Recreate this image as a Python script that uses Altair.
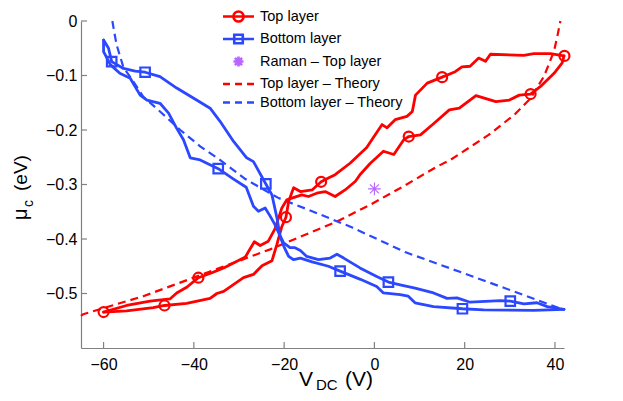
import altair as alt
import pandas as pd

# ---------------- data ----------------
# Top layer (red), branch A: lower-left -> upper-right
TOP_A_V = [-60.0, -54.9, -49.0, -46.5, -41.6, -36.4, -34.9, -33.4, -29.0, -26.8, -24.9, -22.7,
           -21.6, -20.5, -19.6, -19.0, -17.9, -16.4, -13.8, -11.8, -10.2, -8.7, -5.4, -1.7, -0.9,
           1.7, 2.8, 4.6, 7.2, 8.4, 9.1, 11.7, 15.0, 17.9, 19.4, 21.2, 23.1, 24.6, 25.7, 33.1,
           35.3, 39.0, 42.0]
TOP_A_MU = [-0.534, -0.532, -0.526, -0.522, -0.518, -0.509, -0.500, -0.496, -0.471, -0.465, -0.449, -0.440,
            -0.410, -0.377, -0.360, -0.331, -0.306, -0.313, -0.310, -0.295, -0.288, -0.282, -0.261, -0.232, -0.222,
            -0.190, -0.196, -0.181, -0.175, -0.166, -0.136, -0.114, -0.103, -0.093, -0.084, -0.083, -0.068, -0.074, -0.061, -0.063,
            -0.060, -0.060, -0.064]
# Top layer (red), branch B: upper-left -> lower-right
TOP_B_V = [-60.0, -54.9, -49.7, -45.3, -43.8, -41.5, -39.0, -36.0, -33.4, -28.6, -26.6, -25.3,
           -23.5, -22.0, -20.5, -19.4, -18.3, -16.1, -14.6, -12.8, -10.9, -8.7, -6.5, -4.2, -3.2,
           -0.9, 2.0, 4.3, 6.5, 7.6, 10.2, 12.9, 16.6, 18.8, 22.5, 26.9, 29.9, 32.1, 34.6, 36.8,
           39.8, 41.6, 42.0]
TOP_B_MU = [-0.534, -0.522, -0.514, -0.510, -0.499, -0.488, -0.471, -0.462, -0.453, -0.433, -0.405, -0.412,
            -0.404, -0.381, -0.343, -0.328, -0.325, -0.319, -0.322, -0.316, -0.313, -0.322, -0.310, -0.294, -0.282,
            -0.261, -0.239, -0.245, -0.218, -0.212, -0.209, -0.190, -0.163, -0.160, -0.137, -0.148, -0.145, -0.136, -0.134, -0.120,
            -0.096, -0.077, -0.064]
TOP_MARK_V = [-60.0, -46.5, -39.0, -19.6, -11.8, 7.6, 15.0, 34.6, 42.1]
TOP_MARK_MU = [-0.534, -0.522, -0.471, -0.360, -0.295, -0.212, -0.103, -0.134, -0.064]

# Bottom layer (blue), branch A: upper-left -> lower-right
BOT_A_V = [-60.0, -58.9, -58.2, -55.6, -53.0, -50.8, -47.5, -43.8, -39.4, -36.4, -34.2, -31.2,
           -28.3, -26.8, -24.05, -22.7, -21.6, -20.9, -20.1, -19.0, -17.9, -16.4, -13.8, -10.2,
           -7.6, -3.1, 0.5, 2.0, 5.7, 7.5, 9.0, 13.1, 19.5, 24.2, 35.3, 42.0]
BOT_A_MU = [-0.035, -0.050, -0.0745, -0.087, -0.092, -0.094, -0.102, -0.123, -0.145, -0.160, -0.184, -0.221,
            -0.251, -0.258, -0.299, -0.319, -0.361, -0.395, -0.413, -0.432, -0.438, -0.435, -0.442, -0.450,
            -0.459, -0.474, -0.487, -0.499, -0.502, -0.505, -0.517, -0.524, -0.528, -0.530, -0.531, -0.529]
# Bottom layer (blue), branch B: lower-left -> upper-right
BOT_B_V = [-60.0, -60.0, -58.5, -56.4, -54.1, -51.9, -50.4, -47.5, -45.6, -43.8, -42.3, -40.8,
           -38.6, -34.6, -31.2, -28.4, -26.8, -25.7, -24.2, -23.1, -22.0, -21.2, -20.1, -18.7,
           -17.6, -16.4, -15.0, -12.4, -9.8, -8.3, -6.8, -3.2, 0.5, 3.1, 5.7, 9.0, 13.1, 16.1,
           18.3, 21.2, 27.9, 30.1, 33.1, 36.0, 38.3, 42.0]
BOT_B_MU = [-0.035, -0.056, -0.080, -0.096, -0.105, -0.136, -0.145, -0.151, -0.169, -0.197, -0.218, -0.251,
            -0.255, -0.271, -0.290, -0.305, -0.340, -0.349, -0.343, -0.358, -0.374, -0.389, -0.407, -0.416,
            -0.416, -0.421, -0.432, -0.438, -0.435, -0.428, -0.435, -0.453, -0.469, -0.479, -0.484, -0.490, -0.499, -0.509,
            -0.508, -0.516, -0.513, -0.514, -0.519, -0.517, -0.524, -0.529]
BOT_MARK_V = [-58.2, -50.8, -34.6, -24.05, -7.6, 3.1, 19.5, 30.1]
BOT_MARK_MU = [-0.0745, -0.094, -0.271, -0.299, -0.459, -0.479, -0.528, -0.514]

# Raman measurement
RAMAN_V = [0.0]
RAMAN_MU = [-0.308]

# Theory curves
TOP_TH_V = [-65.0, -64.5, -51.2, -34.2, -23.1, -8.3, -0.9, 6.5, 13.9, 16.8, 25.3, 31.0, 34.6,
            37.6, 39.8, 40.6, 41.2]
TOP_TH_MU = [-0.541, -0.538, -0.505, -0.453, -0.419, -0.368, -0.337, -0.303, -0.267, -0.255, -0.209, -0.172, -0.142,
             -0.101, -0.055, -0.025, 0.0]
BOT_TH_V = [-58.05, -57.6, -57.1, -55.6, -53.4, -51.2, -47.5, -43.0, -38.6, -34.2, -28.6, -21.2,
            -13.8, -4.9, 6.8, 24.2, 42.0]
BOT_TH_MU = [0.0, -0.022, -0.044, -0.085, -0.111, -0.139, -0.166, -0.200, -0.230, -0.255, -0.290, -0.325,
             -0.349, -0.379, -0.424, -0.476, -0.530]

SERIES = ["Top layer", "Bottom layer", "Raman \u2013 Top layer",
          "Top layer \u2013 Theory", "Bottom layer \u2013 Theory"]
X_TICKS = [-60, -40, -20, 0, 20, 40]
Y_TICKS = [0, -0.1, -0.2, -0.3, -0.4, -0.5]

# ---------------- styling ----------------
RED = "#ff0000"
BLUE = "#2b48ff"
PURPLE = "#b866ff"
FONT = "Liberation Sans"
W, H = 483, 327

SYM_CIRCLE = "M-2,0H2M-0.65,0A0.65,0.65,0,1,1,0.65,0A0.65,0.65,0,1,1,-0.65,0"
SYM_SQUARE = "M-2,0H2M-0.55,-0.55H0.55V0.55H-0.55Z"
SYM_ASTER = "M0,-0.65V0.65M-0.65,0H0.65M-0.46,-0.46L0.46,0.46M-0.46,0.46L0.46,-0.46"
SYM_DASH = "M-2,0H-1.1M-0.45,0H0.45M1.1,0H2"


def frame(vs, ms, branch="a"):
    return pd.DataFrame({"V": vs, "mu": ms, "branch": branch, "i": list(range(len(vs)))})


top_lines = pd.concat([frame(TOP_A_V, TOP_A_MU, "a"), frame(TOP_B_V, TOP_B_MU, "b")])
bot_lines = pd.concat([frame(BOT_A_V, BOT_A_MU, "a"), frame(BOT_B_V, BOT_B_MU, "b")])
top_th = frame(TOP_TH_V, TOP_TH_MU)
bot_th = frame(BOT_TH_V, BOT_TH_MU)
top_marks = frame(TOP_MARK_V, TOP_MARK_MU)
bot_marks = frame(BOT_MARK_V, BOT_MARK_MU)
raman = frame(RAMAN_V, RAMAN_MU)
legend_df = pd.DataFrame({"V": [0.0] * 5, "mu": [0.0] * 5, "series": SERIES})
xt = pd.DataFrame({"V": X_TICKS})
yt = pd.DataFrame({"mu": Y_TICKS})

X = alt.X("V:Q", scale=alt.Scale(domain=[-65, 42], nice=False, zero=False),
          axis=alt.Axis(values=X_TICKS, title=None, ticks=False, tickSize=0, grid=False,
                        labelPadding=8, format="d", labelFlush=False))
Y = alt.Y("mu:Q", scale=alt.Scale(domain=[-0.6, 0], nice=False, zero=False),
          axis=alt.Axis(values=Y_TICKS, title=None, ticks=False, tickSize=0, grid=False,
                        labelPadding=4, format="~g", labelFlush=False))

line_kw = dict(strokeWidth=2.8, strokeJoin="round", strokeCap="round")
dash_kw = dict(strokeWidth=2.2, strokeDash=[8, 5])

red_line = alt.Chart(top_lines).mark_line(color=RED, **line_kw).encode(
    x=X, y=Y, detail="branch:N", order="i:Q")
blue_line = alt.Chart(bot_lines).mark_line(color=BLUE, **line_kw).encode(
    x=X, y=Y, detail="branch:N", order="i:Q")
red_th = alt.Chart(top_th).mark_line(color=RED, **dash_kw).encode(x=X, y=Y, order="i:Q")
blue_th = alt.Chart(bot_th).mark_line(color=BLUE, **dash_kw).encode(x=X, y=Y, order="i:Q")
red_pts = alt.Chart(top_marks).mark_point(shape="circle", size=100, filled=False, color=RED,
                                          strokeWidth=2.2, opacity=1).encode(x=X, y=Y)
blue_pts = alt.Chart(bot_marks).mark_point(shape="square", size=90, filled=False, color=BLUE,
                                           strokeWidth=2.2, opacity=1).encode(x=X, y=Y)
raman_pt = alt.Chart(raman).mark_point(shape=SYM_ASTER, size=380, filled=False, color=PURPLE,
                                       strokeWidth=1.1, opacity=1).encode(x=X, y=Y)

leg = alt.Legend(title=None, orient="none", legendX=148, legendY=-14, symbolSize=240,
                 labelFont=FONT, labelFontSize=14.5, labelColor="black",
                 labelOffset=12, rowPadding=2.5, padding=0, symbolOpacity=1)
legend_layer = alt.Chart(legend_df).mark_point(filled=False, size=240, opacity=1).encode(
    x=X, y=Y,
    color=alt.Color("series:N", scale=alt.Scale(domain=SERIES, range=[RED, BLUE, PURPLE, RED, BLUE]), legend=leg),
    shape=alt.Shape("series:N", scale=alt.Scale(domain=SERIES, range=[SYM_CIRCLE, SYM_SQUARE, SYM_ASTER, SYM_DASH, SYM_DASH]), legend=leg),
    strokeWidth=alt.StrokeWidth("series:N", scale=alt.Scale(domain=SERIES, range=[2.6, 2.6, 0.8, 2.4, 2.4]), legend=leg),
).transform_filter("false")

xtick_layer = alt.Chart(xt).mark_rule(color="#808080", strokeWidth=1.2).encode(
    x=X, y=alt.value(H), y2=alt.value(H - 6))
ytick_layer = alt.Chart(yt).mark_rule(color="#808080", strokeWidth=1.2).encode(
    y=Y, x=alt.value(0), x2=alt.value(6))


def label(txt, x, y, size, angle=0):
    return alt.Chart(pd.DataFrame({"t": [txt]})).mark_text(
        font=FONT, fontSize=size, align="left", baseline="alphabetic", angle=angle, color="black"
    ).encode(text="t:N", x=alt.value(x), y=alt.value(y))


titles = [
    label("V", 218, 364.5, 21),
    label("DC", 235, 368.5, 15),
    label("(V)", 264, 364.5, 21),
    label("\u03bc", -54, 199, 20, 270),
    label("c", -48, 186, 14, 270),
    label("(eV)", -54, 170, 19, 270),
]

chart = alt.layer(
    xtick_layer, ytick_layer, red_th, blue_th, red_line, blue_line, red_pts, blue_pts, raman_pt,
    legend_layer, *titles
).properties(
    width=W, height=H,
    autosize=alt.AutoSizeParams(type="none"),
    padding={"left": 73, "top": 13, "right": 51, "bottom": 45},
).configure_view(stroke=None).configure_axis(
    domainColor="#808080", domainWidth=1.2, labelFont=FONT, labelFontSize=16, labelColor="black"
)

chart.save("out.html", embed_options={"renderer": "svg", "actions": False})
